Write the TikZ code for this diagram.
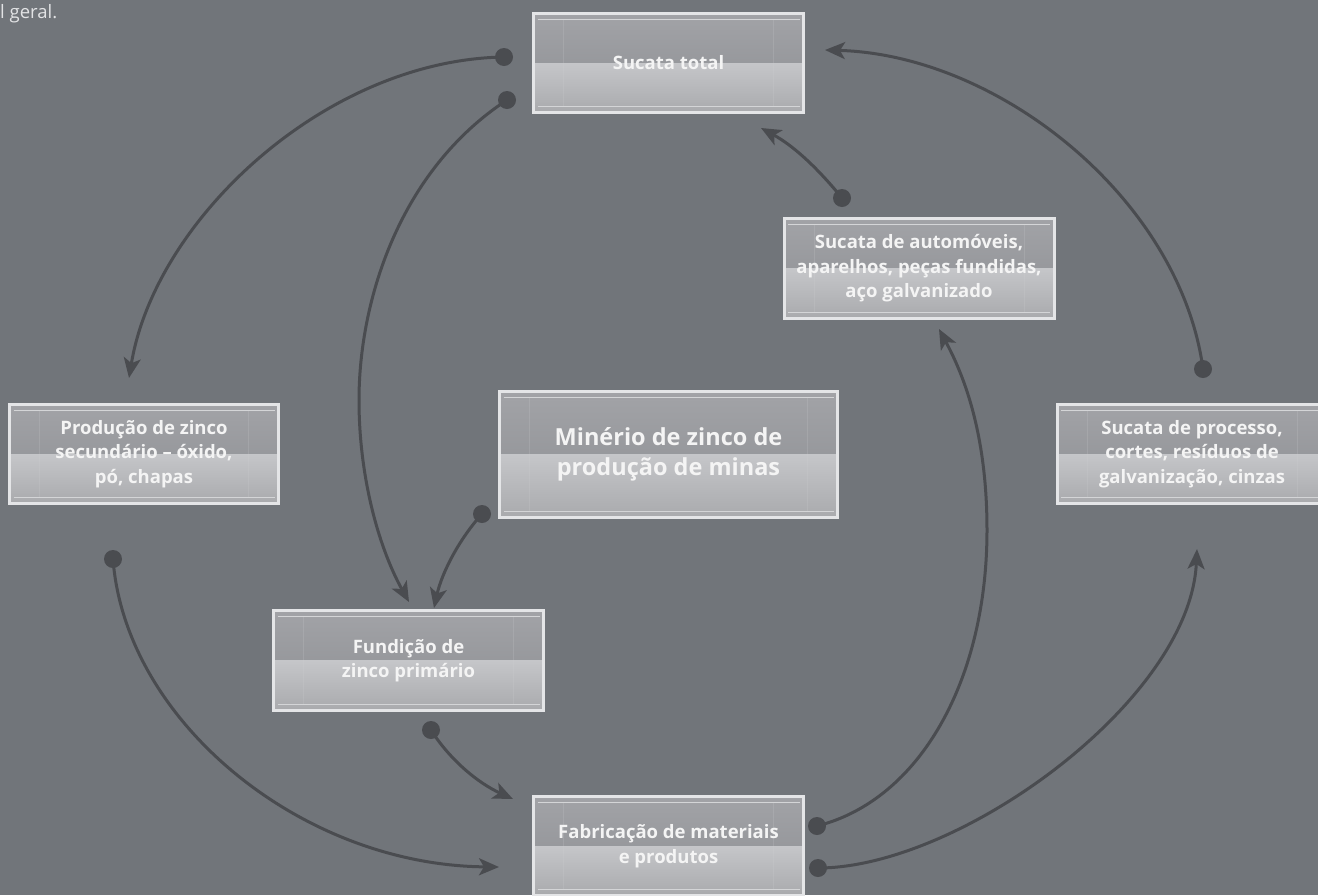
\documentclass[tikz,border=0pt]{standalone}
\usepackage{fontspec}
\newfontfamily\boxfont{Open Sans}
\usetikzlibrary{arrows.meta}
\definecolor{bg}{HTML}{71757A}
\definecolor{flowc}{HTML}{4A4C50}
\definecolor{edgec}{HTML}{E4E5E7}
\definecolor{gA}{HTML}{A2A3A7}
\definecolor{gB}{HTML}{8C8E92}
\definecolor{gC}{HTML}{C5C6C9}
\definecolor{gD}{HTML}{A9AAAD}
\definecolor{innerc}{HTML}{D4D5D7}
\definecolor{labelc}{HTML}{F4F4F4}
\definecolor{notec}{HTML}{E2E3E5}
\begin{document}
\begin{tikzpicture}[x=1pt,y=-1pt,
  panel/.style={draw=edgec, line width=3pt, minimum width=270pt, minimum height=99pt,
    inner sep=0pt, align=center, text=labelc,
    font=\boxfont\bfseries\fontsize{18.5}{24.5}\selectfont,
    path picture={
      \fill[top color=gA,bottom color=gB] (path picture bounding box.north west) rectangle (path picture bounding box.east);
      \fill[top color=gC,bottom color=gD] (path picture bounding box.west) rectangle (path picture bounding box.south east);
      \draw[innerc,line width=1pt] ([xshift=4pt,yshift=-6pt]path picture bounding box.north west) -- ([xshift=-4pt,yshift=-6pt]path picture bounding box.north east);
      \draw[innerc,line width=1pt] ([xshift=4pt,yshift=6pt]path picture bounding box.south west) -- ([xshift=-4pt,yshift=6pt]path picture bounding box.south east);
      \draw[innerc,opacity=0.18,line width=0.6pt] ([xshift=30pt,yshift=-6pt]path picture bounding box.north west) -- ([xshift=30pt,yshift=6pt]path picture bounding box.south west);
      \draw[innerc,opacity=0.18,line width=0.6pt] ([xshift=-30pt,yshift=-6pt]path picture bounding box.north east) -- ([xshift=-30pt,yshift=6pt]path picture bounding box.south east);
    }},
  flow/.style={draw=flowc, line width=3pt, -{Stealth[length=20pt,width=17pt,inset=5pt]}},
  dotc/.style={fill=flowc}]
\useasboundingbox (0,0) rectangle (1318,895);
\fill[bg] (0,0) rectangle (1318,895);

\node[anchor=base west, inner sep=0pt, text=notec, font=\boxfont\fontsize{18.5}{22}\selectfont] (note) at (0,18) {l geral.};

% boxes
\node[panel] (stotal) at (668.5,63) {Sucata total};
\node[panel, minimum height=100pt] (sauto) at (919,268.5) {Sucata de automóveis,\\aparelhos, peças fundidas,\\aço galvanizado};
\node[panel, minimum width=269pt] (prod) at (144,454) {Produção de zinco\\secundário – óxido,\\pó, chapas};
\node[panel, minimum width=338pt, minimum height=126pt, font=\boxfont\bfseries\fontsize{23.5}{30}\selectfont] (minerio) at (668.5,454.5) {Minério de zinco de\\produção de minas};
\node[panel] (sproc) at (1192,454) {Sucata de processo,\\cortes, resíduos de\\galvanização, cinzas};
\node[panel, minimum height=100pt] (fund) at (408.5,660.5) {Fundição de\\zinco primário};
\node[panel] (fabr) at (668.5,846) {\raisebox{-6pt}{\begin{tabular}{@{}c@{}}Fabricação de materiais\\e produtos\end{tabular}}};

% connector ends
\coordinate (da) at (504,57);   \coordinate (ta) at (129,378);
\coordinate (db) at (507,100);  \coordinate (bm) at (359,400); \coordinate (tb) at (409,602);
\coordinate (dc) at (482,514);  \coordinate (tc) at (434,608);
\coordinate (dd) at (431,730);  \coordinate (td) at (513,799);
\coordinate (de) at (113,559);  \coordinate (te) at (499,867);
\coordinate (df) at (817,826);  \coordinate (fm) at (987,530); \coordinate (tf) at (939,329);
\coordinate (dg) at (818,868);  \coordinate (tg) at (1197,549);
\coordinate (dh) at (1203,369); \coordinate (th) at (825,50);
\coordinate (di) at (842,198);  \coordinate (ti) at (761,128);

% connectors
\draw[flow] (da) .. controls (325,60) and (155,220) .. (ta);
\draw[flow] (db) .. controls (400,170) and (359,300) .. (bm) .. controls (359,480) and (380,550) .. (tb);
\draw[flow] (dc) .. controls (460,538) and (442,572) .. (tc);
\draw[flow] (dd) .. controls (450,760) and (478,783) .. (td);
\draw[flow] (de) .. controls (125,720) and (300,865) .. (te);
\draw[flow] (df) .. controls (920,800) and (987,680) .. (fm) .. controls (987,430) and (962,372) .. (tf);
\draw[flow] (dg) .. controls (960,868) and (1190,700) .. (tg);
\draw[flow] (dh) .. controls (1180,200) and (1000,55) .. (th);
\draw[flow] (di) .. controls (815,165) and (792,145) .. (ti);

% dots
\foreach \p in {da,db,dc,dd,de,df,dg,dh,di} \fill[dotc] (\p) circle (9pt);
\end{tikzpicture}
\end{document}
